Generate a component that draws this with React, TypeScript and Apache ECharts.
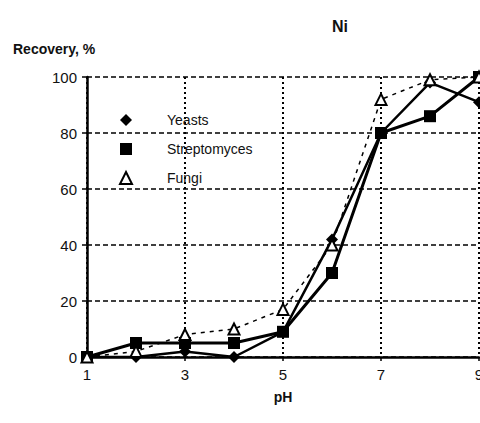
import React, { useEffect, useRef } from "react";
import * as echarts from "echarts";

const phCategories = ["1", "2", "3", "4", "5", "6", "7", "8", "9"];
const yeasts = [0, 0, 2, 0, 9, 42, 80, 98, 91];
const streptomyces = [0, 5, 5, 5, 9, 30, 80, 86, 100];
const fungi = [0, 2, 8, 10, 17, 40, 92, 99, 100];
const yTicks = [0, 20, 40, 60, 80, 100];

export default function App() {
  const ref = useRef<HTMLDivElement>(null);
  useEffect(() => {
    const chart = echarts.init(ref.current!, null, { renderer: "svg" });
    const font = "Liberation Sans, Arial, sans-serif";
    chart.setOption({
      animation: false,
      backgroundColor: "#fff",
      grid: { left: 87, right: 1, top: 77, bottom: 66, outerBoundsMode: "none", containLabel: false },
      graphic: [
        {
          type: "text",
          left: 332,
          top: 18,
          style: { text: "Ni", font: "bold 16px " + font, fill: "#111" },
        },
        {
          type: "text",
          left: 13,
          top: 42,
          style: { text: "Recovery, %", font: "bold 14px " + font, fill: "#111" },
        },
      ],
      legend: {
        orient: "vertical",
        left: 114,
        top: 108,
        itemGap: 15,
        itemWidth: 12,
        itemHeight: 12,
        textStyle: { fontFamily: font, fontSize: 14, color: "#111", padding: [0, 0, 0, 30] },
        data: [
          { name: "Yeasts", icon: "diamond", itemStyle: { color: "#000" } },
          { name: "Streptomyces", icon: "rect", itemStyle: { color: "#000" } },
          {
            name: "Fungi",
            icon: "triangle",
            itemStyle: { color: "#fff", borderColor: "#000", borderWidth: 2 },
          },
        ],
      },
      xAxis: {
        type: "category",
        data: phCategories,
        boundaryGap: false,
        name: "pH",
        nameLocation: "middle",
        nameGap: 33,
        nameTextStyle: { fontFamily: font, fontSize: 14, fontWeight: "bold", color: "#111" },
        axisLine: { lineStyle: { color: "#000", width: 2.5 } },
        axisTick: { show: true, interval: 1, length: 4, lineStyle: { color: "#000", width: 1.5 } },
        axisLabel: { interval: 1, fontFamily: font, fontSize: 15, color: "#111", margin: 10 },
        splitLine: {
          show: true,
          interval: 1,
          lineStyle: { type: [2, 3], color: "#000", width: 2 },
        },
      },
      yAxis: {
        type: "value",
        min: 0,
        max: 100,
        interval: 20,
        axisLine: { show: true, lineStyle: { color: "#000", width: 2.5 } },
        axisTick: { show: true, length: 5, lineStyle: { color: "#000", width: 1.5 } },
        axisLabel: {
          fontFamily: font,
          fontSize: 15,
          color: "#111",
          margin: 10,
          formatter: (v: number) => (yTicks.includes(v) ? String(v) : ""),
        },
        splitLine: { show: true, lineStyle: { type: [5, 3], color: "#000", width: 1.5 } },
      },
      series: [
        {
          name: "Yeasts",
          type: "line",
          data: yeasts,
          symbol: "diamond",
          symbolSize: 12,
          itemStyle: { color: "#000" },
          lineStyle: { color: "#000", width: 2.5 },
          z: 3,
        },
        {
          name: "Streptomyces",
          type: "line",
          data: streptomyces,
          symbol: "rect",
          symbolSize: 12,
          itemStyle: { color: "#000" },
          lineStyle: { color: "#000", width: 3 },
          z: 4,
        },
        {
          name: "Fungi",
          type: "line",
          data: fungi,
          symbol: "triangle",
          symbolSize: 11,
          itemStyle: { color: "#fff", borderColor: "#000", borderWidth: 2 },
          lineStyle: { color: "#000", width: 1.5, type: [4, 5] },
          z: 5,
        },
      ],
    });
    return () => chart.dispose();
  }, []);
  return (
    <div
      ref={ref}
      style={{ position: "fixed", left: 0, top: 0, width: 480, height: 423 }}
    />
  );
}
